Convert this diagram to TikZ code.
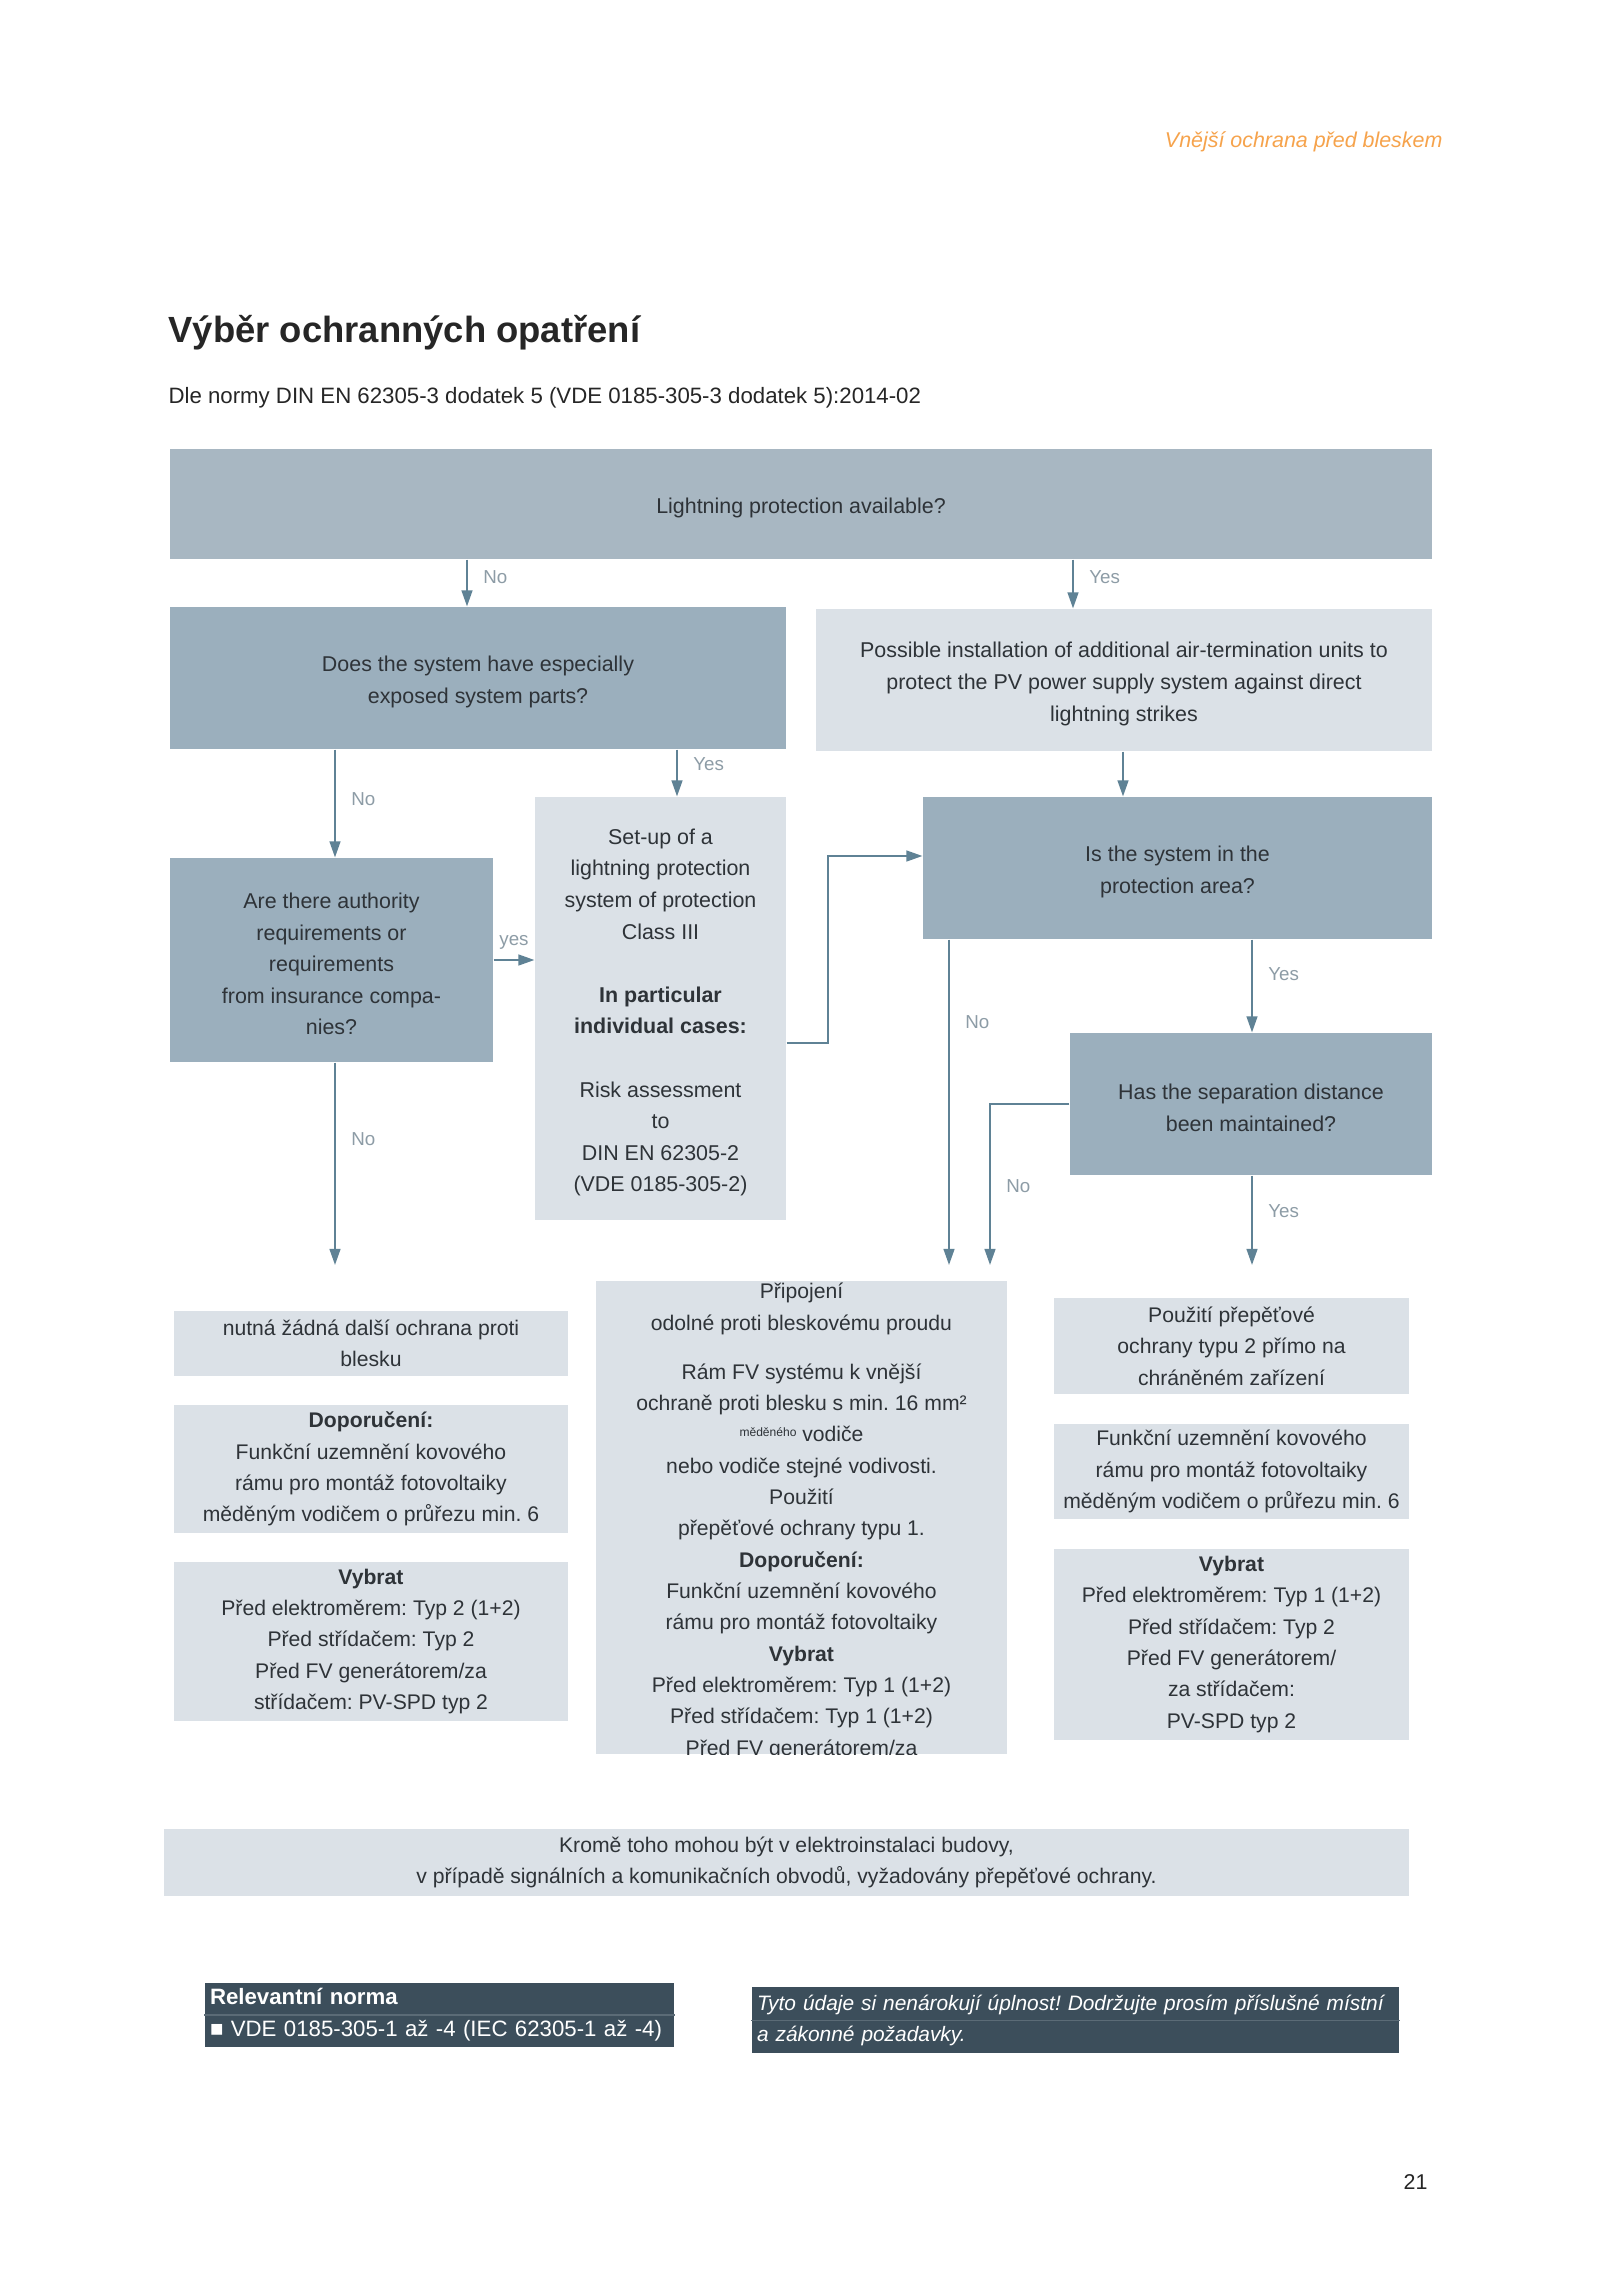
\documentclass[tikz,border=0pt]{standalone}
\usepackage{fontspec}
\setmainfont{Liberation Sans}
\usetikzlibrary{arrows.meta}
\frenchspacing
\definecolor{qtop}{HTML}{A8B7C2}
\definecolor{qdark}{HTML}{9BAFBD}
\definecolor{qlight}{HTML}{DBE1E7}
\definecolor{arrcol}{HTML}{5F8295}
\definecolor{lblcol}{HTML}{8D9CA6}
\definecolor{foot}{HTML}{3C4E5B}
\definecolor{footline}{HTML}{5B6B76}
\definecolor{txt}{HTML}{2E3338}
\definecolor{hdr}{HTML}{F6A34C}
\newcommand{\ux}{0.013125cm}
\tikzset{
  sz/.style 2 args={minimum width=#1*\ux, minimum height=#2*\ux},
  qtext/.style={text=txt, align=center, inner sep=0pt, font=\fontsize{8}{11.8}\selectfont, yshift=-1.5pt},
  qbox/.style={fill=qdark, inner sep=0pt},
  topbox/.style={qbox, fill=qtop},
  lbox/.style={qbox, fill=qlight},
  btext/.style={text=txt, align=center, inner sep=0pt, font=\fontsize{7.9}{11.7}\selectfont},
  rbox/.style={btext, fill=qlight},
  footbox/.style={fill=foot, text=white, align=left, inner xsep=5*\ux, inner ysep=0pt},
  arr/.style={draw=arrcol, line width=0.8pt, -{Triangle[length=6pt, width=4pt]}},
  lbl/.style={text=lblcol, font=\fontsize{7}{8}\selectfont, inner sep=0pt, anchor=west, xshift=0.2cm}
}
\begin{document}
\begin{tikzpicture}[x=\ux, y=-\ux]
\useasboundingbox (0,0) rectangle (1600,2273);
\fill[white] (0,0) rectangle (1600,2273);

% page head
\node[anchor=east, inner sep=0pt, text=hdr, font=\fontsize{8}{10}\selectfont\itshape] (head) at (1443,142) {Vnější ochrana před bleskem};
\node[anchor=west, inner sep=0pt, text=black!85, font=\fontsize{13.6}{16}\selectfont\bfseries] (title) at (168,333) {Výběr ochranných opatření};
\node[anchor=west, inner sep=0pt, text=black!85, font=\fontsize{8.3}{10}\selectfont] (subtitle) at (168,398) {Dle normy DIN EN 62305-3 dodatek 5 (VDE 0185-305-3 dodatek 5):2014-02};

% questions
\node[topbox, sz={1262}{110}, label={[qtext]center:Lightning protection available?}] (avail) at (801,504) {};
\node[qbox, sz={616}{142}, label={[qtext]center:{Does the system have especially\\ exposed system parts?}}] (exposed) at (478,678) {};
\node[lbox, sz={616}{142}, label={[qtext]center:{Possible installation of additional air-termination units to\\ protect the PV power supply system against direct\\ lightning strikes}}] (airterm) at (1124,680) {};
\node[qbox, sz={323}{204}, label={[qtext]center:{Are there authority\\ requirements or\\ requirements\\ from insurance compa-\\ nies?}}] (authority) at (331.5,960) {};
\node[lbox, sz={251}{423}, label={[qtext]center:{Set-up of a\\ lightning protection\\ system of protection\\ Class III\\[11.8pt] \textbf{In particular}\\ \textbf{individual cases:}\\[11.8pt] Risk assessment\\ to\\ DIN EN 62305-2\\ (VDE 0185-305-2)}}] (setup) at (660.5,1008.5) {};
\node[qbox, sz={509}{142}, label={[qtext]center:{Is the system in the\\ protection area?}}] (protarea) at (1177.5,868) {};
\node[qbox, sz={362}{142}, label={[qtext]center:{Has the separation distance\\ been maintained?}}] (sepdist) at (1251,1104) {};

% columns of the connectors
\coordinate (cA) at (335,0);
\coordinate (cB) at (467,0);
\coordinate (cC) at (677,0);
\coordinate (cG) at (1073,0);
\coordinate (cH) at (1123,0);
\coordinate (cI) at (1252,0);
\coordinate (j1) at (828,1043);
\coordinate (j2) at (828,856);
\coordinate (endA) at (335,1265);
\coordinate (endE) at (949,1265);
\coordinate (endF) at (990,1265);
\coordinate (endI) at (1252,1265);

\path[arr] (avail.south -| cB) -- node[lbl, pos=.375] {No} (exposed.north -| cB);
\path[arr] (avail.south -| cG) -- node[lbl, pos=.36] {Yes} (airterm.north -| cG);
\path[arr] (exposed.south -| cA) -- node[lbl, pos=.46] {No} (authority.north -| cA);
\path[arr] (exposed.south -| cC) -- node[lbl, pos=.31] {Yes} (setup.north -| cC);
\path[arr] (airterm.south -| cH) -- (protarea.north -| cH);
\path[arr] (authority.east) -- node[lbl, midway, anchor=south, xshift=-0.2cm, yshift=0.12cm] {yes} (authority.east -| setup.west);
\path[arr] (j1 -| setup.east) -- (j1) -- (j2) -- (j2 -| protarea.west);
\path[arr] (authority.south -| endA) -- node[lbl, pos=.38] {No} (endA);
\path[arr] (protarea.south -| endE) -- node[lbl, pos=.255] {No} (endE);
\path[arr] (protarea.south -| cI) -- node[lbl, pos=.37] {Yes} (sepdist.north -| cI);
\path[arr] (sepdist.west) -| node[lbl, pos=.755] {No} (endF);
\path[arr] (sepdist.south -| endI) -- node[lbl, pos=.4] {Yes} (endI);

% results, left
\node[rbox, sz={394}{65}] (nofurther) at (371,1343.5) {nutná žádná další ochrana proti\\ blesku};
\node[rbox, sz={394}{128}] (recomL) at (371,1469) {\textbf{Doporučení:}\\ Funkční uzemnění kovového\\ rámu pro montáž fotovoltaiky\\ měděným vodičem o průřezu min. 6};
\node[rbox, sz={394}{159}] (selL) at (371,1641.5) {\textbf{Vybrat}\\ Před elektroměrem: Typ 2 (1+2)\\ Před střídačem: Typ 2\\ Před FV generátorem/za\\ střídačem: PV-SPD typ 2};

% results, middle
\node[fill=qlight, inner sep=0pt, sz={411}{473}] (conn) at (801.5,1517.5) {};
\begin{scope}
\clip (conn.south west) rectangle (conn.north east);
\node[btext, anchor=north, yshift=-0.03cm] (conntxt) at (conn.north) {Připojení\\ odolné proti bleskovému proudu\\[6.6pt] Rám FV systému k vnější\\ ochraně proti blesku s min. 16 mm²\\ {\fontsize{4.5}{5}\selectfont\raisebox{0.9ex}{měděného}} vodiče\\ nebo vodiče stejné vodivosti.\\ Použití\\ přepěťové ochrany typu 1.\\ \textbf{Doporučení:}\\ Funkční uzemnění kovového\\ rámu pro montáž fotovoltaiky\\ \textbf{Vybrat}\\ Před elektroměrem: Typ 1 (1+2)\\ Před střídačem: Typ 1 (1+2)\\ Před FV generátorem/za};
\end{scope}

% results, right
\node[rbox, sz={355}{96}] (spd2) at (1231.5,1346) {Použití přepěťové\\ ochrany typu 2 přímo na\\ chráněném zařízení};
\node[rbox, sz={355}{95}] (recomR) at (1231.5,1471.5) {Funkční uzemnění kovového\\ rámu pro montáž fotovoltaiky\\ měděným vodičem o průřezu min. 6};
\node[rbox, sz={355}{191}] (selR) at (1231.5,1644.5) {\textbf{Vybrat}\\ Před elektroměrem: Typ 1 (1+2)\\ Před střídačem: Typ 2\\ Před FV generátorem/\\ za střídačem:\\ PV-SPD typ 2};

% note and footer
\node[rbox, sz={1245}{67}] (note) at (786.5,1862.5) {Kromě toho mohou být v elektroinstalaci budovy,\\ v případě signálních a komunikačních obvodů, vyžadovány přepěťové ochrany.};
\node[footbox, sz={469}{64}, text width=459*\ux, font=\fontsize{8.3}{11.9}\selectfont] (norm) at (439.5,2015) {\textbf{Relevantní norma}\\ ■ VDE 0185-305-1 až -4 (IEC 62305-1 až -4)};
\draw[footline, line width=0.4pt] (norm.west) -- (norm.east);
\node[footbox, sz={647}{66}, text width=637*\ux, font=\fontsize{7.8}{11.6}\selectfont\itshape] (discl) at (1075.5,2020) {Tyto údaje si nenárokují úplnost! Dodržujte prosím příslušné místní\\ a zákonné požadavky.};
\draw[footline, line width=0.4pt] ([yshift=-0.01cm]discl.west) -- ([yshift=-0.01cm]discl.east);

\node[anchor=east, inner sep=0pt, text=black!85, font=\fontsize{8}{10}\selectfont] (pageno) at (1428,2182) {21};
\end{tikzpicture}
\end{document}
